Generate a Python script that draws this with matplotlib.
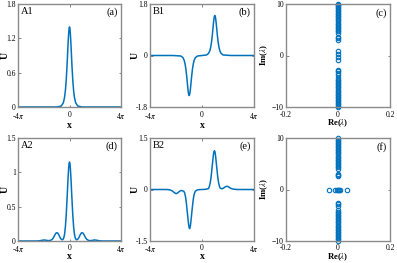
import numpy as np
import matplotlib
matplotlib.use('Agg')
import matplotlib.pyplot as plt

plt.rcParams.update({'font.family': 'Liberation Serif', 'font.size': 5.5,
                     'mathtext.fontset': 'stix', 'axes.linewidth': 1.0,
                     'axes.edgecolor': '#8a8a8a'})

BLUE = '#0072BD'
PI = np.pi

# (a) A1 profile
x_a = [-12.57, -6.0, -4.0, -3.0, -2.0, -1.5, -1.2, -1.0, -0.8, -0.6, -0.5, -0.4, -0.3, -0.2, -0.1, 0.0,
       0.1, 0.2, 0.3, 0.4, 0.5, 0.6, 0.8, 1.0, 1.2, 1.5, 2.0, 3.0, 4.0, 6.0, 12.57]
u_a = [0.0, 0.0, 0.0, 0.001, 0.018, 0.075, 0.171, 0.289, 0.468, 0.722, 0.874, 1.027, 1.171, 1.292, 1.372, 1.40,
       1.372, 1.292, 1.171, 1.027, 0.874, 0.722, 0.468, 0.289, 0.171, 0.075, 0.018, 0.001, 0.0, 0.0, 0.0]

# (b) B1 profile
x_b = [-12.57, -7.0, -5.1, -4.6, -4.3, -4.1, -3.9, -3.7, -3.6, -3.5, -3.4, -3.3, -3.2, -3.1,
       -3.0, -2.9, -2.8, -2.7, -2.6, -2.5, -2.3, -2.1, -1.9, -1.6, -1.1, 0.0,
       1.1, 1.6, 1.9, 2.1, 2.3, 2.5, 2.6, 2.7, 2.8, 2.9, 3.0,
       3.1, 3.2, 3.3, 3.4, 3.5, 3.6, 3.7, 3.9, 4.1, 4.3, 4.6, 5.1, 7.0, 12.57]
u_b = [0.0, 0.0, -0.018, -0.075, -0.171, -0.289, -0.468, -0.722, -0.874, -1.027, -1.171, -1.292, -1.372, -1.40,
       -1.372, -1.292, -1.171, -1.027, -0.874, -0.722, -0.468, -0.289, -0.171, -0.075, -0.018, 0.0,
       0.018, 0.075, 0.171, 0.289, 0.468, 0.722, 0.874, 1.027, 1.171, 1.292, 1.372,
       1.40, 1.372, 1.292, 1.171, 1.027, 0.874, 0.722, 0.468, 0.289, 0.171, 0.075, 0.018, 0.0, 0.0]

# (c) spectrum of A1/B1
re_c = [0.0] * 52
im_c = [0.8, 0.35, -0.35, -0.8,
        3.1, 3.35, 3.6, 4.4, 4.7, 5.0, 5.3, 5.6, 5.9, 6.2, 6.5, 6.8, 7.1, 7.4, 7.7, 8.0, 8.3, 8.6, 8.9, 9.2, 9.5, 9.8,
        -2.8, -3.1, -3.4, -3.7, -4.4, -4.7, -5.0, -5.3, -5.6, -5.9, -6.2, -6.5, -6.8, -7.1, -7.4, -7.7, -8.0,
        -8.3, -8.6, -8.9, -9.2, -9.5, -9.8, 10.0, -10.0, 9.9]

# (d) A2 profile
x_d = [-12.57, -8.0, -7.3, -6.7, -6.1, -5.5, -5.0, -4.6, -4.2, -3.9, -3.6, -3.3, -3.1, -2.9, -2.6, -2.3, -2.0,
       -1.8, -1.6, -1.4, -1.2, -1.0, -0.8, -0.6, -0.5, -0.4, -0.3, -0.2, -0.1, 0.0,
       0.1, 0.2, 0.3, 0.4, 0.5, 0.6, 0.8, 1.0, 1.2, 1.4, 1.6, 1.8,
       2.0, 2.3, 2.6, 2.9, 3.1, 3.3, 3.6, 3.9, 4.2, 4.6, 5.0, 5.5, 6.1, 6.7, 7.3, 8.0, 12.57]
u_d = [0.0, 0.0, 0.003, 0.01, 0.015, 0.008, 0.005, 0.01, 0.025, 0.05, 0.085, 0.115, 0.12, 0.118, 0.09, 0.05, 0.025,
       0.018, 0.022, 0.045, 0.10, 0.21, 0.38, 0.61, 0.73, 0.86, 0.97, 1.07, 1.13, 1.15,
       1.13, 1.07, 0.97, 0.86, 0.73, 0.61, 0.38, 0.21, 0.10, 0.045, 0.022, 0.018,
       0.025, 0.05, 0.09, 0.118, 0.12, 0.115, 0.085, 0.05, 0.025, 0.01, 0.005, 0.008, 0.015, 0.01, 0.003, 0.0, 0.0]

# (e) B2 profile
x_e = [-12.57, -8.5, -7.8, -7.2, -6.7, -6.3, -6.0, -5.5, -5.1, -4.8, -4.4,
       -4.2, -4.0, -3.8, -3.6, -3.5, -3.4, -3.3, -3.2, -3.1, -3.0, -2.9, -2.8, -2.7, -2.6, -2.5, -2.4, -2.2, -2.0, -1.8,
       -1.6, -1.2, -0.8, 0.0, 0.8, 1.2, 1.6,
       1.8, 2.0, 2.2, 2.4, 2.5, 2.6, 2.7, 2.8, 2.9, 3.0, 3.1, 3.2, 3.3, 3.4, 3.5, 3.6, 3.8, 4.0, 4.2,
       4.4, 4.8, 5.2, 5.7, 6.1, 6.5, 7.0, 7.6, 8.5, 12.57]
u_e = [0.0, 0.0, -0.01, -0.04, -0.09, -0.12, -0.11, -0.06, -0.03, -0.035, -0.05,
       -0.10, -0.20, -0.37, -0.60, -0.72, -0.84, -0.95, -1.05, -1.11, -1.14, -1.11, -1.05, -0.95, -0.84, -0.72, -0.60, -0.37,
       -0.20, -0.10, -0.05, -0.015, -0.005, 0.0, 0.005, 0.015, 0.03,
       0.10, 0.20, 0.37, 0.60, 0.72, 0.84, 0.95, 1.05, 1.11, 1.13, 1.11, 1.05, 0.95, 0.84, 0.72, 0.60, 0.37, 0.20, 0.10,
       0.04, 0.02, 0.04, 0.085, 0.095, 0.07, 0.03, 0.01, 0.0, 0.0]

# (f) spectrum of A2/B2
re_f = [-0.034, -0.011, -0.003, 0.0, 0.003, 0.009, 0.033] + [0.0] * 48
im_f = [0.0, 0.0, 0.0, 0.0, 0.0, 0.0, 0.0,
        2.6, 2.85, 3.1, 4.0, 4.3, 4.6, 4.9, 5.2, 5.5, 5.8, 6.1, 6.4, 6.7, 7.0, 7.3, 7.6, 7.9, 8.2, 8.5, 8.8, 9.1,
        9.4, 9.7, 10.0,
        -2.6, -2.9, -3.2, -4.0, -4.3, -4.6, -4.9, -5.2, -5.5, -5.8, -6.1, -6.4, -6.7, -7.0, -7.3, -7.6, -7.9,
        -8.2, -8.5, -8.8, -9.1, -9.4, -9.7, -10.0]

fig = plt.figure(figsize=(3.97, 2.63), dpi=100)
W, H = 397.0, 263.0


def add(left, top, right, bottom, xpad):
    ax = fig.add_axes([left / W, 1 - bottom / H, (right - left) / W, (bottom - top) / H])
    ax.tick_params(direction='in', length=1.8, width=0.5, pad=1.5, top=True, right=True,
                   color='#555555', labelsize=5.5)
    ax.tick_params(axis='x', pad=xpad)
    return ax


def profile(ax, x, u, yt, name, tag, ylab_x, xlab_y):
    ax.plot(x, u, color=BLUE, lw=1.1)
    ax.set_xlim(-4 * PI, 4 * PI)
    ax.set_xticks([-4 * PI, 0, 4 * PI])
    ax.set_xticklabels([r'-4$\pi$', '0', r'4$\pi$'])
    ax.set_ylim(yt[0], yt[-1])
    ax.set_yticks(yt)
    ax.set_yticklabels([('%g' % v) for v in yt])
    ax.set_xlabel('x', fontsize=7, fontweight='bold')
    ax.set_ylabel('U', fontsize=7, fontweight='bold')
    ax.xaxis.set_label_coords(0.5, xlab_y)
    ax.yaxis.set_label_coords(ylab_x, 0.5)
    ax.text(0.03, 0.97, name, transform=ax.transAxes, ha='left', va='top', fontsize=7.5)
    ax.text(0.97, 0.97, tag, transform=ax.transAxes, ha='right', va='top', fontsize=7.5)


def spectrum(ax, re, im, tag, xlab_y):
    ax.plot(re, im, 'o', mfc='none', mec=BLUE, ms=3.2, mew=0.8, clip_on=False)
    ax.set_xlim(-0.2, 0.2)
    ax.set_ylim(-10, 10)
    ax.set_xticks([-0.2, 0, 0.2])
    ax.set_xticklabels(['-0.2', '0', '0.2'])
    ax.set_yticks([-10, 0, 10])
    ax.set_xlabel(r'Re($\lambda$)', fontsize=6.2, fontweight='bold')
    ax.set_ylabel(r'Im($\lambda$)', fontsize=6.2, fontweight='bold')
    ax.xaxis.set_label_coords(0.5, xlab_y)
    ax.yaxis.set_label_coords(-0.15, 0.5)
    ax.text(0.97, 0.96, tag, transform=ax.transAxes, ha='right', va='top', fontsize=7.5)


ax = add(18, 4, 121, 107, 2.6)
profile(ax, x_a, u_a, [0, 0.6, 1.2, 1.8], 'A1', '(a)', -0.08, -0.14)
ax = add(150, 4, 254, 107, 2.6)
profile(ax, x_b, u_b, [-1.8, 0, 1.8], 'B1', '(b)', -0.1, -0.14)
ax = add(286, 4, 390, 107, 2.6)
spectrum(ax, re_c, im_c, '(c)', -0.1)
ax = add(18, 138, 121, 241, 2.3)
profile(ax, x_d, u_d, [0, 0.5, 1, 1.5], 'A2', '(d)', -0.08, -0.105)
ax = add(150, 138, 254, 241, 2.3)
profile(ax, x_e, u_e, [-1.5, 0, 1.5], 'B2', '(e)', -0.1, -0.105)
ax = add(286, 138, 390, 241, 2.3)
spectrum(ax, re_f, im_f, '(f)', -0.105)

fig.savefig('out.png', dpi=100)
